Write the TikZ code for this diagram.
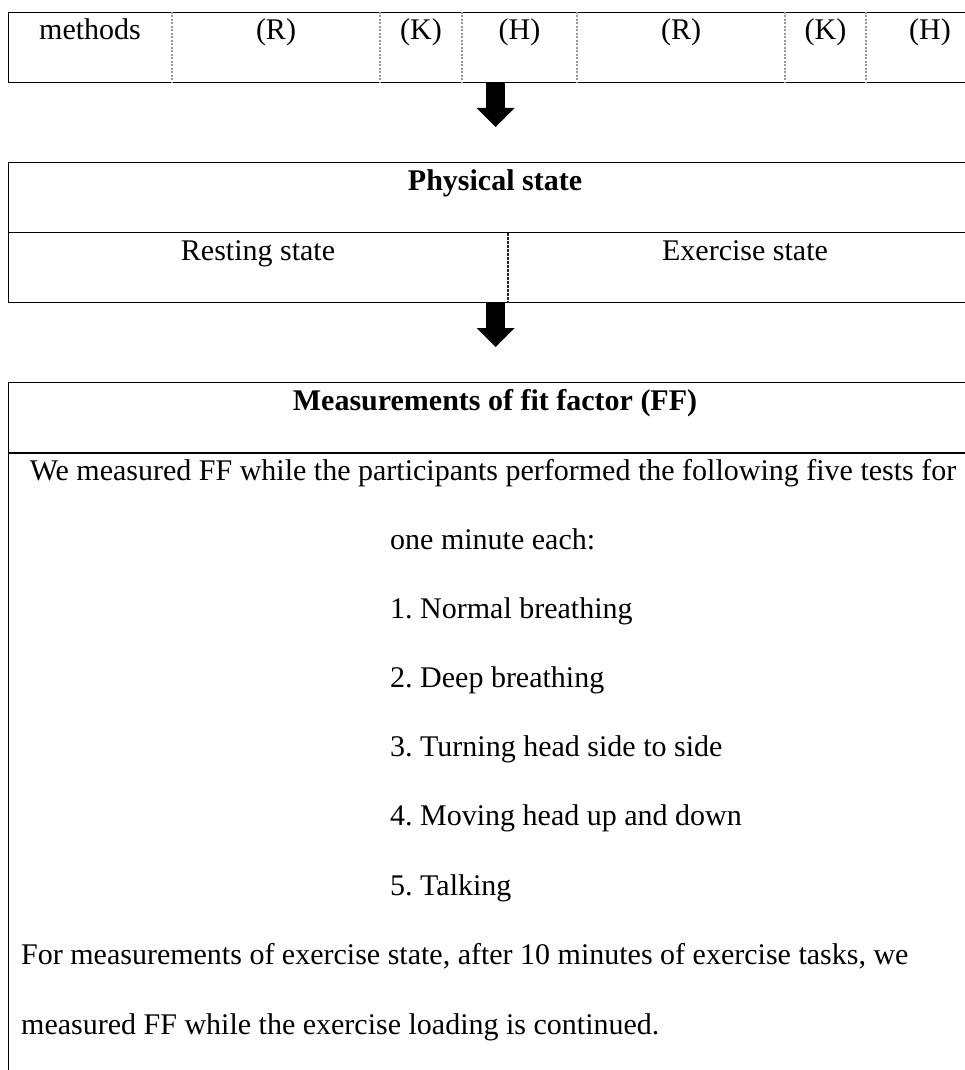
\documentclass[tikz,border=0pt]{standalone}
\usepackage{fontspec}
\setmainfont{Liberation Serif}
\usetikzlibrary{calc,positioning,arrows.meta}

\tikzset{
  cellbox/.style={rectangle,draw=black,line width=1.3pt,anchor=north west,inner sep=0pt},
  celltext/.style={draw=none,font=\fontsize{30}{36}\selectfont,anchor=base},
  headtext/.style={draw=none,font=\fontsize{30}{36}\selectfont\bfseries,anchor=base},
  bodytext/.style={draw=none,font=\fontsize{30}{36}\selectfont,anchor=base west,inner sep=0pt},
  dotsep/.style={draw=gray!80,line width=1.2pt,dash pattern=on 2pt off 1.5pt},
  dashsep/.style={draw=black!85,line width=1.6pt,dash pattern=on 3pt off 1pt},
  bigarrow/.style={draw=black,line width=19pt,-{Triangle[length=19pt,width=37pt]}},
}

\begin{document}
\begin{tikzpicture}[x=1pt,y=-1pt]
  \useasboundingbox (0,0) rectangle (965,1070);

  % methods row
  \node (methods) [cellbox,minimum width=986pt,minimum height=70pt] at(8,12) {};
  \foreach \x in {172,380,462,577,785,866}
    \draw[dotsep] (\x,0 |- methods.north) -- (\x,0 |- methods.south);

  \node (cell_m) [celltext] at(90,40) {methods};
  \foreach \lbl/\x [count=\i] in {R/276,K/421,H/519.5,R/681,K/825.5,H/930}
    \node (cell_\i) [celltext] at(\x,40) {(\lbl)};

  % physical state
  \node (phys) [cellbox,minimum width=974pt,minimum height=140pt] at(8,162) {};
  \draw[line width=1.3pt] (phys.west) -- (phys.east);
  \draw[dashsep] (508,0 |- phys.center) -- (508,0 |- phys.south);
  \node (phys_t) [headtext] at(495,190) {Physical state};
  \node (rest) [celltext] at(258,260) {Resting state};
  \node (exer) [celltext] at(745,260) {Exercise state};

  \coordinate (tip_1) at($(phys.north)+(0,-35)$);
  \draw[bigarrow] (phys.north |- methods.south) -- (tip_1);

  % measurements
  \node (meas) [cellbox,minimum width=974pt,minimum height=720pt] at(8,382) {};
  \draw[line width=1.3pt] ($(meas.north west)+(0,71)$) -- ($(meas.north east)+(0,71)$);

  \coordinate (tip_2) at($(meas.north)+(0,-35)$);
  \draw[bigarrow] (meas.north |- phys.south) -- (tip_2);

  \node (meas_t) [headtext] at(495,410) {Measurements of fit factor (FF)};
  \node (intro_1) [celltext] at(493,480) {We measured FF while the participants performed the following five tests for};
  \node (intro_2) [bodytext] at(390,549) {one minute each:};

  \foreach \t [count=\i] in {Normal breathing,Deep breathing,Turning head side to side,Moving head up and down,Talking}
    \node (item_\i) [bodytext] at(390,549+69.2*\i) {\i.\ \t};

  \node (note_1) [bodytext] at(21,964) {For measurements of exercise state, after 10 minutes of exercise tasks, we};
  \node (note_2) [bodytext] at(21,1034) {measured FF while the exercise loading is continued.};

\end{tikzpicture}
\end{document}
